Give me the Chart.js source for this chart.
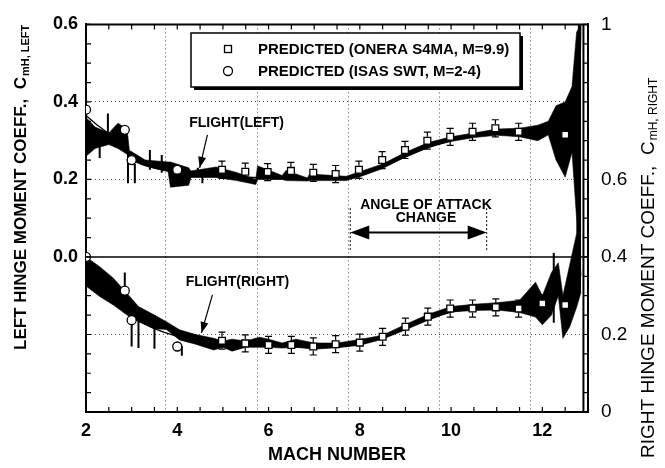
<!DOCTYPE html>
<html>
<head>
<meta charset="utf-8">
<script src="https://cdn.jsdelivr.net/npm/chart.js@4.4.0/dist/chart.umd.min.js"></script>
<style>
  html, body { margin: 0; padding: 0; background: #fff; }
</style>
</head>
<body>
<canvas id="chart" width="665" height="468"></canvas>
<script>
const FONT = '"Liberation Sans", Arial, Helvetica, sans-serif';

// tick labels
const xTickLabels = [2, 4, 6, 8, 10, 12];
const leftTickLabels = [0, 0.2, 0.4, 0.6];
const rightTickLabels = [0, 0.2, 0.4, 0.6, 1];

// predicted, left hinge (left axis)
const leftSqMach = [4.98, 5.49, 5.98, 6.49, 6.98, 7.47, 7.98, 8.49, 8.99, 9.48, 9.98, 10.47, 10.97, 11.48, 12.5];
const leftSqVal  = [0.225, 0.22, 0.219, 0.222, 0.217, 0.214, 0.225, 0.25, 0.276, 0.30, 0.31, 0.323, 0.332, 0.323, 0.315];
const leftSqErr  = [0.022, 0.022, 0.022, 0.022, 0.022, 0.022, 0.022, 0.022, 0.022, 0.022, 0.022, 0.022, 0.022, 0.022, 0.022];
const leftCircMach = [2.0, 2.85, 3.0, 4.0];
const leftCircVal  = [0.38, 0.328, 0.25, 0.225];

// predicted, right hinge (right axis)
const rightSqMach = [4.98, 5.49, 6.0, 6.5, 6.98, 7.47, 8.0, 8.5, 9.0, 9.49, 9.98, 10.47, 10.98, 11.48, 12.0, 12.5];
const rightSqVal  = [0.184, 0.177, 0.173, 0.173, 0.169, 0.175, 0.179, 0.194, 0.22, 0.246, 0.267, 0.267, 0.27, 0.267, 0.28, 0.276];
const rightSqErr  = [0.022, 0.022, 0.022, 0.022, 0.022, 0.022, 0.022, 0.022, 0.022, 0.022, 0.022, 0.022, 0.022, 0.022, 0.022, 0.022];
const rightCircMach = [2.0, 2.85, 3.0, 4.0];
const rightCircVal  = [0.40, 0.313, 0.237, 0.169];

// flight data envelope, left
const leftBandMach = [2.0, 2.2, 2.5, 2.7, 2.9, 2.95, 3.3, 3.8, 3.85, 4.25, 4.3, 4.85, 5.3, 5.72, 5.76, 6.3, 6.38, 6.85, 6.9, 7.7, 8.0, 8.5, 9.0, 9.5, 10.0, 10.5, 11.0, 11.5, 11.9, 12.13, 12.3, 12.5, 12.65, 12.75, 12.85];
const leftBandLo   = [0.26, 0.28, 0.29, 0.28, 0.265, 0.25, 0.235, 0.22, 0.18, 0.185, 0.205, 0.205, 0.197, 0.187, 0.20, 0.20, 0.197, 0.196, 0.197, 0.197, 0.207, 0.228, 0.258, 0.283, 0.298, 0.308, 0.314, 0.31, 0.30, 0.315, 0.25, 0.206, 0.27, 0.10, -0.05];
const leftBandHi   = [0.36, 0.335, 0.32, 0.345, 0.33, 0.275, 0.25, 0.245, 0.245, 0.23, 0.222, 0.232, 0.218, 0.20, 0.235, 0.21, 0.223, 0.204, 0.214, 0.208, 0.22, 0.24, 0.27, 0.295, 0.31, 0.32, 0.33, 0.332, 0.34, 0.35, 0.39, 0.40, 0.44, 0.58, 0.60];

// flight data envelope, right
const rightBandMach = [2.0, 2.3, 2.6, 2.9, 3.15, 3.5, 3.76, 4.05, 4.4, 4.8, 5.0, 5.2, 5.5, 5.8, 6.0, 6.3, 6.6, 7.0, 7.5, 8.0, 8.5, 9.0, 9.5, 10.0, 10.5, 11.0, 11.5, 11.85, 12.0, 12.2, 12.35, 12.45, 12.6, 12.75, 12.85];
const rightBandLo   = [0.325, 0.298, 0.276, 0.25, 0.233, 0.215, 0.213, 0.186, 0.175, 0.16, 0.167, 0.157, 0.167, 0.167, 0.167, 0.165, 0.167, 0.162, 0.166, 0.172, 0.188, 0.212, 0.237, 0.258, 0.262, 0.263, 0.257, 0.245, 0.225, 0.25, 0.30, 0.19, 0.22, 0.27, 0.31];
const rightBandHi   = [0.40, 0.375, 0.345, 0.306, 0.272, 0.25, 0.233, 0.212, 0.20, 0.19, 0.183, 0.188, 0.183, 0.193, 0.188, 0.178, 0.188, 0.178, 0.178, 0.187, 0.198, 0.226, 0.252, 0.272, 0.278, 0.282, 0.288, 0.335, 0.30, 0.36, 0.385, 0.30, 0.38, 0.46, 1.0];

// single flight spikes
const leftSpikeMach = [2.3, 2.48, 2.92, 3.07, 3.4, 3.66, 4.45, 4.55, 12.8];
const leftSpikeLo   = [0.255, 0.31, 0.19, 0.19, 0.225, 0.217, 0.206, 0.19, -0.05];
const leftSpikeHi   = [0.32, 0.37, 0.27, 0.24, 0.276, 0.263, 0.23, 0.225, 0.6];
const rightSpikeMach = [2.85, 3.0, 3.15, 3.5, 4.1, 12.25, 12.9];
const rightSpikeLo   = [0.30, 0.169, 0.165, 0.163, 0.145, 0.23, 0.0];
const rightSpikeHi   = [0.36, 0.233, 0.268, 0.25, 0.17, 0.41, 1.0];

// faired flight curves
const fitMach  = [2.0, 2.25, 2.5, 2.75, 3.0, 3.25, 3.5, 4.0, 4.5, 5.0, 5.5, 6.0, 6.5, 7.0, 7.5, 8.0, 8.5, 9.0, 9.5, 10.0, 10.5, 11.0, 11.5, 12.0];
const leftFit  = [0.365, 0.34, 0.318, 0.29, 0.255, 0.238, 0.229, 0.22, 0.213, 0.209, 0.206, 0.203, 0.201, 0.2, 0.201, 0.21, 0.232, 0.258, 0.282, 0.30, 0.313, 0.32, 0.323, 0.325];
const rightFit = [0.365, 0.33, 0.30, 0.275, 0.25, 0.23, 0.215, 0.195, 0.183, 0.176, 0.172, 0.17, 0.168, 0.167, 0.168, 0.176, 0.192, 0.215, 0.24, 0.258, 0.266, 0.27, 0.272, 0.275];

function pts(xs, ys) { return xs.map((x, i) => ({x: x, y: ys[i]})); }
function bars(xs, lo, hi) { return xs.map((x, i) => ({x: x, y: [lo[i], hi[i]]})); }
function steps(min, max, step) {
    const t = [];
    for (let v = min; v <= max + 1e-9; v += step) t.push({value: Math.round(v * 1000) / 1000});
    return t;
}
function near(v, list) { return list.some(a => Math.abs(a - v) < 1e-6); }

const bandLine = {pointRadius: 0, borderColor: '#000', borderWidth: 0.6, tension: 0, order: 5};
const markerBase = {showLine: false, borderColor: '#000', pointBorderColor: '#000', pointBackgroundColor: '#fff', pointBorderWidth: 1.3, order: 0};

// arrows and text drawn over the chart
function arrowHead(ctx, x0, y0, x1, y1, len, half) {
    const a = Math.atan2(y1 - y0, x1 - x0);
    ctx.beginPath();
    ctx.moveTo(x1, y1);
    ctx.lineTo(x1 - len * Math.cos(a) + half * Math.sin(a), y1 - len * Math.sin(a) - half * Math.cos(a));
    ctx.lineTo(x1 - len * Math.cos(a) - half * Math.sin(a), y1 - len * Math.sin(a) + half * Math.cos(a));
    ctx.closePath();
    ctx.fill();
}

function verticalTitle(ctx, cx, y0, main, sub, mainFont, subFont) {
    ctx.save();
    ctx.translate(cx, y0);
    ctx.rotate(-Math.PI / 2);
    ctx.fillStyle = '#000';
    ctx.textAlign = 'left';
    ctx.textBaseline = 'middle';
    ctx.font = mainFont;
    ctx.fillText(main, 0, 0);
    const w = ctx.measureText(main).width;
    ctx.font = subFont;
    ctx.fillText(sub, w + 1, 5);
    ctx.restore();
}

const decor = {
    id: 'decor',
    afterDatasetsDraw(chart) {
        const ctx = chart.ctx, x = chart.scales.x;
        const sets = [[chart.scales.y, leftSqMach, leftSqVal, leftSqErr], [chart.scales.y1, rightSqMach, rightSqVal, rightSqErr]];
        ctx.save();
        ctx.strokeStyle = '#000';
        ctx.lineWidth = 1.2;
        sets.forEach(([ys, ms, vs, es]) => {
            ms.forEach((m, i) => {
                const px = x.getPixelForValue(m);
                const pc = ys.getPixelForValue(vs[i]);
                const pt = ys.getPixelForValue(vs[i] + es[i]);
                const pb = ys.getPixelForValue(vs[i] - es[i]);
                ctx.beginPath();
                ctx.moveTo(px, pt); ctx.lineTo(px, pc - 4);
                ctx.moveTo(px, pc + 4); ctx.lineTo(px, pb);
                ctx.moveTo(px - 3.5, pt); ctx.lineTo(px + 3.5, pt);
                ctx.moveTo(px - 3.5, pb); ctx.lineTo(px + 3.5, pb);
                ctx.stroke();
            });
        });
        ctx.restore();
    },
    afterDraw(chart) {
        const ctx = chart.ctx;
        const {left, right, top, bottom} = chart.chartArea;
        const x = chart.scales.x, y = chart.scales.y, y1 = chart.scales.y1;
        ctx.save();
        ctx.strokeStyle = '#000';
        ctx.fillStyle = '#000';

        // frame top
        ctx.lineWidth = 2;
        ctx.beginPath(); ctx.moveTo(left - 1, top); ctx.lineTo(right + 1, top); ctx.stroke();

        // zero line of the left axis
        ctx.lineWidth = 1.5;
        const y0 = y.getPixelForValue(0);
        ctx.beginPath(); ctx.moveTo(left, y0); ctx.lineTo(right, y0); ctx.stroke();

        // inward tick marks
        ctx.lineWidth = 1.2;
        ctx.beginPath();
        x.ticks.forEach(t => {
            const p = x.getPixelForValue(t.value);
            ctx.moveTo(p, bottom); ctx.lineTo(p, bottom - 5);
            ctx.moveTo(p, top); ctx.lineTo(p, top + 5);
        });
        y.ticks.forEach(t => {
            const p = y.getPixelForValue(t.value);
            ctx.moveTo(left, p); ctx.lineTo(left + 5, p);
        });
        y1.ticks.forEach(t => {
            const p = y1.getPixelForValue(t.value);
            ctx.moveTo(right, p); ctx.lineTo(right - 5, p);
        });
        ctx.stroke();

        // legend box
        const lx = 191, ly = 33, lw = 329, lh = 54;
        ctx.fillStyle = '#000';
        ctx.fillRect(lx + 3, ly + 3, lw, lh);
        ctx.fillStyle = '#fff';
        ctx.fillRect(lx, ly, lw, lh);
        ctx.lineWidth = 1.5;
        ctx.strokeRect(lx, ly, lw, lh);
        ctx.lineWidth = 1.3;
        ctx.strokeRect(224.5, 45.5, 7, 7);
        ctx.beginPath(); ctx.arc(228, 71, 4.5, 0, Math.PI * 2); ctx.stroke();
        ctx.fillStyle = '#000';
        ctx.font = 'bold 15px ' + FONT;
        ctx.textAlign = 'left';
        ctx.textBaseline = 'middle';
        ctx.fillText(chart.data.datasets[8].label, 258, 50);
        ctx.fillText(chart.data.datasets[9].label, 258, 72);

        // flight annotations
        ctx.font = 'bold 14px ' + FONT;
        ctx.textAlign = 'center';
        ctx.fillText('FLIGHT(LEFT)', x.getPixelForValue(5.3), y.getPixelForValue(0.346));
        ctx.fillText('FLIGHT(RIGHT)', x.getPixelForValue(5.32), y1.getPixelForValue(0.335));
        ctx.lineWidth = 1.2;
        let ax0 = x.getPixelForValue(4.66), ay0 = y.getPixelForValue(0.315);
        let ax1 = x.getPixelForValue(4.49), ay1 = y.getPixelForValue(0.23);
        ctx.beginPath(); ctx.moveTo(ax0, ay0); ctx.lineTo(ax1, ay1); ctx.stroke();
        arrowHead(ctx, ax0, ay0, ax1, ay1, 11, 4);
        ax0 = x.getPixelForValue(4.77); ay0 = y1.getPixelForValue(0.302);
        ax1 = x.getPixelForValue(4.53); ay1 = y1.getPixelForValue(0.204);
        ctx.beginPath(); ctx.moveTo(ax0, ay0); ctx.lineTo(ax1, ay1); ctx.stroke();
        arrowHead(ctx, ax0, ay0, ax1, ay1, 11, 4);

        // angle of attack change
        ctx.fillText('ANGLE OF ATTACK', x.getPixelForValue(9.45), y.getPixelForValue(0.134));
        ctx.fillText('CHANGE', x.getPixelForValue(9.45), y.getPixelForValue(0.10));
        const bx0 = x.getPixelForValue(7.79), bx1 = x.getPixelForValue(10.78);
        const by = y.getPixelForValue(0.063);
        ctx.lineWidth = 2;
        ctx.beginPath(); ctx.moveTo(bx0 + 10, by); ctx.lineTo(bx1 - 10, by); ctx.stroke();
        arrowHead(ctx, bx1, by, bx0, by, 19, 7);
        arrowHead(ctx, bx0, by, bx1, by, 19, 7);
        ctx.lineWidth = 1;
        ctx.setLineDash([2, 2]);
        ctx.beginPath();
        [bx0, bx1].forEach(bx => {
            ctx.moveTo(bx, y.getPixelForValue(0.126));
            ctx.lineTo(bx, y.getPixelForValue(0.018));
        });
        ctx.stroke();
        ctx.setLineDash([]);
        ctx.restore();

        // axis titles with subscripts
        verticalTitle(ctx, 21, 350, 'LEFT HINGE MOMENT COEFF.,  C', 'mH, LEFT', 'bold 17px ' + FONT, 'bold 11px ' + FONT);
        verticalTitle(ctx, 649, 458, 'RIGHT HINGE MOMENT COEFF.,  C', 'mH, RIGHT', '19px ' + FONT, '12px ' + FONT);
    }
};

Chart.defaults.color = '#000';
Chart.defaults.font.family = FONT;

new Chart(document.getElementById('chart'), {
    type: 'line',
    data: {
        datasets: [
            Object.assign({label: 'flight left lo', data: pts(leftBandMach, leftBandLo), yAxisID: 'y', fill: false}, bandLine),
            Object.assign({label: 'flight left hi', data: pts(leftBandMach, leftBandHi), yAxisID: 'y', fill: '-1', backgroundColor: '#000'}, bandLine),
            Object.assign({label: 'flight right lo', data: pts(rightBandMach, rightBandLo), yAxisID: 'y1', fill: false}, bandLine),
            Object.assign({label: 'flight right hi', data: pts(rightBandMach, rightBandHi), yAxisID: 'y1', fill: '-1', backgroundColor: '#000'}, bandLine),
            {type: 'bar', label: 'spikes left', data: bars(leftSpikeMach, leftSpikeLo, leftSpikeHi), yAxisID: 'y', backgroundColor: '#000', grouped: false, maxBarThickness: 2, order: 4},
            {type: 'bar', label: 'spikes right', data: bars(rightSpikeMach, rightSpikeLo, rightSpikeHi), yAxisID: 'y1', backgroundColor: '#000', grouped: false, maxBarThickness: 2, order: 4},
            {label: 'FLIGHT(LEFT)', data: pts(fitMach, leftFit), yAxisID: 'y', borderColor: '#000', borderWidth: 1.3, pointRadius: 0, cubicInterpolationMode: 'monotone', fill: false, order: 1},
            {label: 'FLIGHT(RIGHT)', data: pts(fitMach, rightFit), yAxisID: 'y1', borderColor: '#000', borderWidth: 1.3, pointRadius: 0, cubicInterpolationMode: 'monotone', fill: false, order: 1},
            Object.assign({label: 'PREDICTED (ONERA S4MA, M=9.9)', data: pts(leftSqMach, leftSqVal), yAxisID: 'y', pointStyle: 'rect', pointRadius: 4.8}, markerBase),
            Object.assign({label: 'PREDICTED (ISAS SWT, M=2-4)', data: pts(leftCircMach, leftCircVal), yAxisID: 'y', pointStyle: 'circle', pointRadius: 4.5}, markerBase),
            Object.assign({label: 'ONERA right', data: pts(rightSqMach, rightSqVal), yAxisID: 'y1', pointStyle: 'rect', pointRadius: 4.8}, markerBase),
            Object.assign({label: 'ISAS right', data: pts(rightCircMach, rightCircVal), yAxisID: 'y1', pointStyle: 'circle', pointRadius: 4.5}, markerBase)
        ]
    },
    options: {
        responsive: false,
        animation: false,
        devicePixelRatio: 1,
        layout: {padding: {top: 24, left: 0, right: 0, bottom: 0}},
        plugins: {legend: {display: false}, tooltip: {enabled: false}},
        scales: {
            x: {
                type: 'linear', min: 2, max: 13, offset: false,
                afterBuildTicks: s => { s.ticks = steps(2, 13, 0.5); },
                afterFit: s => { s.height = 56; },
                ticks: {
                    autoSkip: false, maxRotation: 0, padding: 8,
                    font: {size: 18, weight: 'bold'},
                    callback: v => near(v, xTickLabels) ? String(Math.round(v)) : ''
                },
                grid: {
                    drawTicks: false, lineWidth: 1,
                    color: c => (c.tick && near(c.tick.value, [4, 6, 8, 10, 12])) ? '#555' : 'rgba(0,0,0,0)'
                },
                border: {color: '#000', width: 2, dash: [1, 3]},
                title: {display: true, text: 'MACH NUMBER', font: {size: 18, weight: 'bold'}, padding: {top: 0, bottom: 2}}
            },
            y: {
                type: 'linear', position: 'left', min: -0.4, max: 0.6,
                afterBuildTicks: s => { s.ticks = steps(-0.4, 0.6, 0.05); },
                afterFit: s => { s.width = 86; },
                ticks: {
                    autoSkip: false, padding: 8,
                    font: {size: 18, weight: 'bold'},
                    callback: v => near(v, leftTickLabels) ? v.toFixed(1) : ''
                },
                grid: {
                    drawTicks: false, lineWidth: 1,
                    color: c => (c.tick && near(c.tick.value, [0.4, 0.2, -0.2])) ? '#555' : 'rgba(0,0,0,0)'
                },
                border: {color: '#000', width: 2, dash: [1, 3]}
            },
            y1: {
                type: 'linear', position: 'right', min: 0, max: 1,
                afterBuildTicks: s => { s.ticks = steps(0, 1, 0.05); },
                afterFit: s => { s.width = 77; },
                ticks: {
                    autoSkip: false, padding: 13,
                    font: {size: 19},
                    callback: v => near(v, rightTickLabels) ? ((v === 0 || v === 1) ? String(v) : v.toFixed(1)) : ''
                },
                grid: {drawOnChartArea: false, drawTicks: false},
                border: {color: '#000', width: 2}
            }
        }
    },
    plugins: [decor]
});
</script>
</body>
</html>
